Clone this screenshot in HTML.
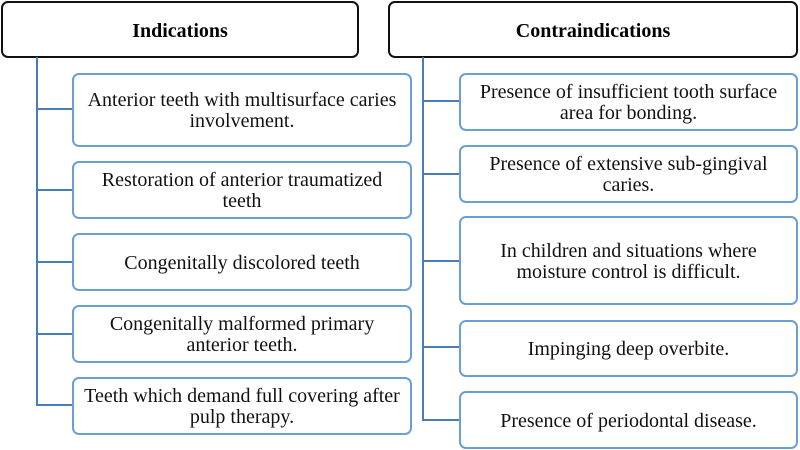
<!DOCTYPE html>
<html><head><style>
body{margin:0;width:800px;height:450px;background:#fff;position:relative;overflow:hidden;font-family:"Liberation Serif",serif;}
.h{position:absolute;border:2px solid #111;border-radius:7px;box-sizing:border-box;display:flex;align-items:center;justify-content:center;font-weight:bold;font-size:20px;padding-top:3px;}
.b{position:absolute;border:2px solid #6a9fd6;border-radius:7px;box-sizing:border-box;display:flex;align-items:center;justify-content:center;text-align:center;font-size:20px;line-height:21px;color:#111;padding-top:2px;}
.l{position:absolute;background:#4a7db6;}
</style></head><body>
<div class="h" style="left:1px;top:1px;width:358px;height:57px">Indications</div>
<div class="h" style="left:388px;top:1px;width:410px;height:57px">Contraindications</div>
<div class="l" style="left:36px;top:57px;width:2px;height:349px"></div>
<div class="l" style="left:36px;top:108px;width:36px;height:2px"></div>
<div class="l" style="left:36px;top:189px;width:36px;height:2px"></div>
<div class="l" style="left:36px;top:261px;width:36px;height:2px"></div>
<div class="l" style="left:36px;top:333px;width:36px;height:2px"></div>
<div class="l" style="left:36px;top:404px;width:36px;height:2px"></div>
<div class="b" style="left:72px;top:73px;width:340px;height:74px">Anterior teeth with multisurface caries<br>involvement.</div>
<div class="b" style="left:72px;top:161px;width:340px;height:58px">Restoration of anterior traumatized<br>teeth</div>
<div class="b" style="left:72px;top:233px;width:340px;height:58px">Congenitally discolored teeth</div>
<div class="b" style="left:72px;top:305px;width:340px;height:58px">Congenitally malformed primary<br>anterior teeth.</div>
<div class="b" style="left:72px;top:377px;width:340px;height:58px">Teeth which demand full covering after<br>pulp therapy.</div>
<div class="l" style="left:422px;top:57px;width:2px;height:364px"></div>
<div class="l" style="left:422px;top:100px;width:37px;height:2px"></div>
<div class="l" style="left:422px;top:173px;width:37px;height:2px"></div>
<div class="l" style="left:422px;top:260px;width:37px;height:2px"></div>
<div class="l" style="left:422px;top:346px;width:37px;height:2px"></div>
<div class="l" style="left:422px;top:419px;width:37px;height:2px"></div>
<div class="b" style="left:459px;top:73px;width:339px;height:58px">Presence of insufficient tooth surface<br>area for bonding.</div>
<div class="b" style="left:459px;top:145px;width:339px;height:58px">Presence of extensive sub-gingival<br>caries.</div>
<div class="b" style="left:459px;top:216px;width:339px;height:89px">In children and situations where<br>moisture control is difficult.</div>
<div class="b" style="left:459px;top:320px;width:339px;height:57px">Impinging deep overbite.</div>
<div class="b" style="left:459px;top:391px;width:339px;height:58px">Presence of periodontal disease.</div>
</body></html>
